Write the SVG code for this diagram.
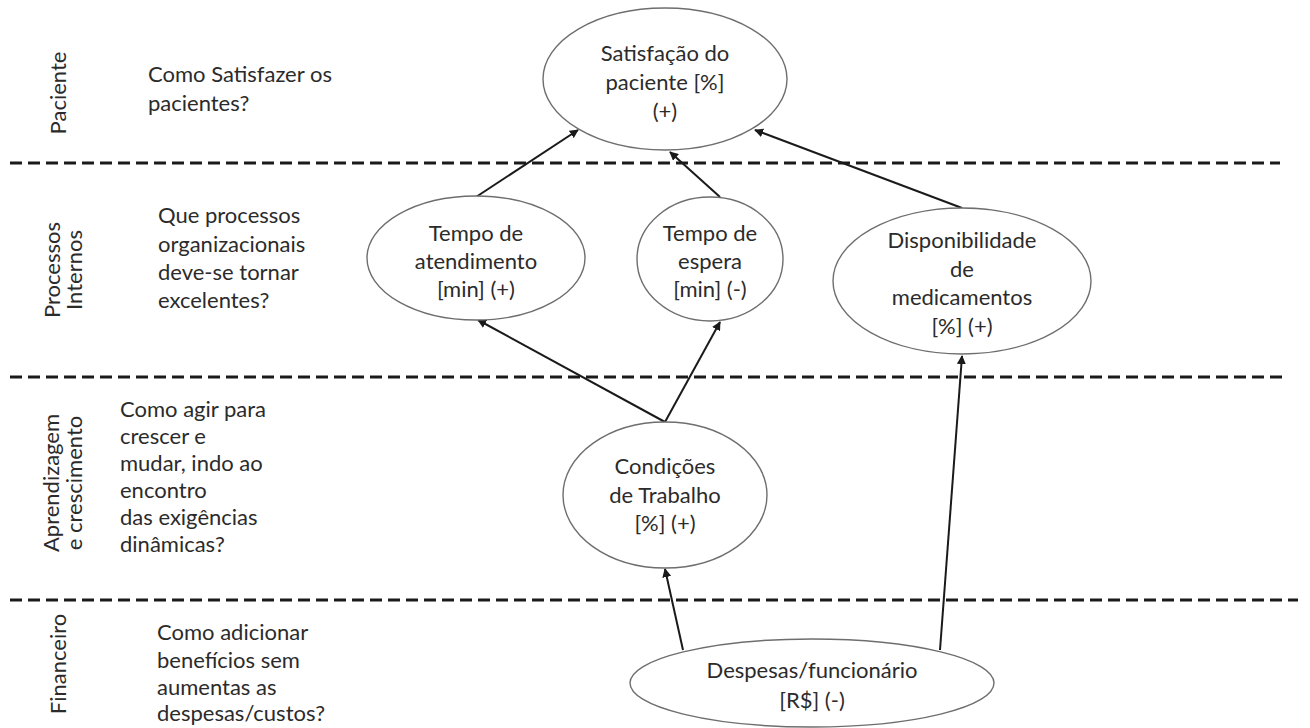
<svg xmlns="http://www.w3.org/2000/svg" width="1310" height="728" viewBox="0 0 1310 728">
  <defs>
    <marker id="arrow" viewBox="0 0 10 10" refX="9" refY="5" markerWidth="4.5" markerHeight="4.5" orient="auto">
      <path d="M0,0 L10,5 L0,10 z" fill="#1a1a1a"/>
    </marker>
    <style>
      text { font-family: Lato, "Open Sans", "Liberation Sans", sans-serif; font-size: 22px; fill: #2b2b2b; }
      .c { text-anchor: middle; }
      .node ellipse { fill: #ffffff; stroke: #6e6e6e; stroke-width: 1.4; }
      .divider { stroke: #1a1a1a; stroke-width: 3; stroke-dasharray: 12 6; fill: none; }
      .link { stroke: #1a1a1a; stroke-width: 2; fill: none; marker-end: url(#arrow); }
    </style>
  </defs>
  <rect width="1310" height="728" fill="#ffffff"/>

  <!-- perspective dividers -->
  <g id="dividers">
    <line class="divider" x1="10" y1="163" x2="1280" y2="163"/>
    <line class="divider" x1="10" y1="377" x2="1282" y2="377"/>
    <line class="divider" x1="10" y1="600" x2="1298" y2="600"/>
  </g>

  <!-- perspective titles (vertical) -->
  <g id="perspectives">
    <text class="c" transform="translate(66,93) rotate(-90)">Paciente</text>
    <text class="c" transform="translate(60,270) rotate(-90)">Processos</text>
    <text class="c" transform="translate(82,270) rotate(-90)">Internos</text>
    <text class="c" transform="translate(59,483) rotate(-90)">Aprendizagem</text>
    <text class="c" transform="translate(82,483) rotate(-90)">e crescimento</text>
    <text class="c" transform="translate(66,664) rotate(-90)">Financeiro</text>
  </g>

  <!-- guiding questions -->
  <g id="questions">
    <text x="148" y="82">Como Satisfazer os</text>
    <text x="148" y="111">pacientes?</text>
    <text x="158" y="223">Que processos</text>
    <text x="158" y="252">organizacionais</text>
    <text x="158" y="280">deve-se tornar</text>
    <text x="158" y="308">excelentes?</text>
    <text x="120" y="417">Como agir para</text>
    <text x="120" y="444">crescer e</text>
    <text x="120" y="471">mudar, indo ao</text>
    <text x="120" y="498">encontro</text>
    <text x="120" y="525">das exigências</text>
    <text x="120" y="552">dinâmicas?</text>
    <text x="157" y="640">Como adicionar</text>
    <text x="157" y="668">benefícios sem</text>
    <text x="157" y="695">aumentas as</text>
    <text x="157" y="721">despesas/custos?</text>
  </g>

  <!-- cause-effect links -->
  <g id="connectors">
    <line class="link" x1="476" y1="197" x2="578" y2="130"/>
    <line class="link" x1="720" y1="197" x2="670" y2="152"/>
    <line class="link" x1="962" y1="208" x2="755" y2="130"/>
    <line class="link" x1="665" y1="422" x2="478" y2="320"/>
    <line class="link" x1="665" y1="422" x2="720" y2="322"/>
    <line class="link" x1="683" y1="650" x2="665" y2="569"/>
    <line class="link" x1="940" y1="650" x2="962" y2="356"/>
  </g>

  <g id="satisfacao" class="node">
    <ellipse cx="665" cy="79" rx="122" ry="71"/>
    <text class="c" x="665" y="61">Satisfação do</text>
    <text class="c" x="665" y="90">paciente [%]</text>
    <text class="c" x="665" y="119">(+)</text>
  </g>

  <g id="tempo-atendimento" class="node">
    <ellipse cx="476" cy="258" rx="109" ry="62"/>
    <text class="c" x="476" y="241">Tempo de</text>
    <text class="c" x="476" y="269">atendimento</text>
    <text class="c" x="476" y="297">[min] (+)</text>
  </g>

  <g id="tempo-espera" class="node">
    <ellipse cx="710" cy="259" rx="73" ry="62"/>
    <text class="c" x="710" y="241">Tempo de</text>
    <text class="c" x="710" y="269">espera</text>
    <text class="c" x="710" y="297">[min] (-)</text>
  </g>

  <g id="disponibilidade" class="node">
    <ellipse cx="962" cy="281" rx="129" ry="73"/>
    <text class="c" x="962" y="248">Disponibilidade</text>
    <text class="c" x="962" y="277">de</text>
    <text class="c" x="962" y="305">medicamentos</text>
    <text class="c" x="962" y="334">[%] (+)</text>
  </g>

  <g id="condicoes" class="node">
    <ellipse cx="665" cy="495" rx="102" ry="73"/>
    <text class="c" x="665" y="474">Condições</text>
    <text class="c" x="665" y="503">de Trabalho</text>
    <text class="c" x="665" y="531">[%] (+)</text>
  </g>

  <g id="despesas" class="node">
    <ellipse cx="812" cy="683" rx="182" ry="44"/>
    <text class="c" x="812" y="678">Despesas/funcionário</text>
    <text class="c" x="812" y="708">[R$] (-)</text>
  </g>
</svg>
